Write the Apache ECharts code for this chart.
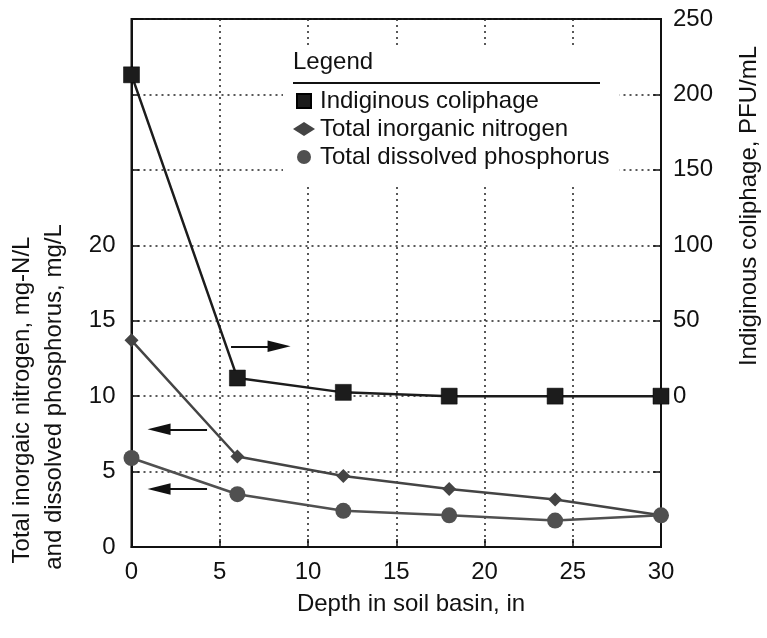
<!DOCTYPE html>
<html>
<head>
<meta charset="utf-8">
<script src="https://cdn.jsdelivr.net/npm/echarts@6/dist/echarts.min.js"></script>
<style>
  html, body { margin: 0; padding: 0; background: #fff; }
  #chart { width: 767px; height: 638px; }
</style>
</head>
<body>
<div id="chart"></div>
<script>
// depth in soil basin, in
const depths = [0, 6, 12, 18, 24, 30]
// indiginous coliphage, PFU/mL (right axis)
const coliphage = [213, 12, 2.5, 0, 0, 0]
// total inorganic nitrogen, mg-N/L (left axis)
const nitrogen = [13.7, 6.0, 4.7, 3.85, 3.15, 2.1]
// total dissolved phosphorus, mg/L (left axis)
const phosphorus = [5.9, 3.5, 2.4, 2.1, 1.75, 2.1]
// arrows pointing at the axis each curve belongs to: [tail x, head x, y on left axis]
const arrows = [[5.64, 8.36, 13.3], [4.28, 1.56, 7.8], [4.28, 1.56, 3.85]]

const FONT = 'Liberation Sans, Arial, Helvetica, sans-serif'
const FS = 24
const INK = '#111'
const dotted = { color: '#222', width: 1.5, type: [2, 4] }
// narrow triangle head, padded with moveTo points so it keeps its shape in a square box
const arrowHead = 'path://M-11,0 M11,0 M0,-11 L5.5,11 L-5.5,11 Z'
// 14x14 square inside a 22x14 legend slot
const squareIcon = 'path://M0,0 M22,14 M4,0 L18,0 L18,14 L4,14 Z'

const chart = echarts.init(document.getElementById('chart'), null, { renderer: 'canvas' })

const toPairs = (ys) => depths.map((d, i) => [d, ys[i]])

const option = {
  animation: false,
  textStyle: { fontFamily: FONT },
  grid: {
    left: 131.5, right: 106, top: 19, bottom: 91,
    show: true, borderColor: INK, borderWidth: 2
  },
  legend: {
    orient: 'vertical',
    left: 283,
    top: 45,
    padding: [44, 10, 14, 9],
    backgroundColor: '#fff',
    itemWidth: 22,
    itemHeight: 14,
    itemGap: 4,
    selectedMode: false,
    textStyle: { fontSize: FS, color: INK, fontFamily: FONT },
    data: [
      { name: 'Indiginous coliphage', icon: squareIcon },
      { name: 'Total inorganic nitrogen', icon: 'diamond' },
      { name: 'Total dissolved phosphorus', icon: 'circle' }
    ]
  },
  xAxis: {
    type: 'value', min: 0, max: 30, interval: 5,
    axisLine: { lineStyle: { color: INK, width: 2 } },
    axisTick: { inside: true, length: 8, lineStyle: { color: INK, width: 1.5 } },
    axisLabel: { fontSize: FS, color: INK, margin: 13 },
    splitLine: { show: true, lineStyle: dotted }
  },
  yAxis: [
    {
      type: 'value', min: 0, max: 35, interval: 5,
      axisLine: { show: true, lineStyle: { color: INK, width: 2 } },
      axisTick: { show: true, inside: true, length: 8, lineStyle: { color: INK, width: 1.5 } },
      axisLabel: { fontSize: FS, color: INK, margin: 16, formatter: v => (v <= 20 ? v : '') },
      splitLine: { show: true, lineStyle: dotted }
    },
    {
      type: 'value', min: -100, max: 250, interval: 50, position: 'right',
      axisLine: { show: true, lineStyle: { color: INK, width: 2 } },
      axisTick: { show: true, inside: true, length: 8, lineStyle: { color: INK, width: 1.5 } },
      axisLabel: { fontSize: FS, color: INK, margin: 12, formatter: v => (v >= 0 ? v : '') },
      splitLine: { show: false }
    }
  ],
  series: [
    {
      name: 'Total inorganic nitrogen',
      type: 'line', yAxisIndex: 0, clip: false,
      data: toPairs(nitrogen),
      symbol: 'diamond', symbolSize: 14,
      itemStyle: { color: '#444' },
      lineStyle: { color: '#444', width: 2.5 },
      markLine: {
        silent: true,
        animation: false,
        label: { show: false },
        symbol: ['none', arrowHead],
        symbolSize: 23,
        lineStyle: { color: INK, width: 2, type: 'solid' },
        data: arrows.map(a => [
          { coord: [a[0], a[2]] },
          { coord: [a[1], a[2]] }
        ])
      }
    },
    {
      name: 'Total dissolved phosphorus',
      type: 'line', yAxisIndex: 0, clip: false,
      data: toPairs(phosphorus),
      symbol: 'circle', symbolSize: 16,
      itemStyle: { color: '#505050' },
      lineStyle: { color: '#505050', width: 2.5 }
    },
    {
      name: 'Indiginous coliphage',
      type: 'line', yAxisIndex: 1, clip: false,
      data: toPairs(coliphage),
      symbol: 'rect', symbolSize: 16,
      itemStyle: { color: '#1c1c1c', borderColor: '#000', borderWidth: 0.5 },
      lineStyle: { color: '#1c1c1c', width: 2.5 }
    }
  ],
  graphic: [
    {
      type: 'text', x: 293, y: 62, z: 100,
      style: { text: 'Legend', font: FS + 'px ' + FONT, fill: INK, textVerticalAlign: 'middle' }
    },
    {
      type: 'line', z: 100,
      shape: { x1: 293, y1: 83, x2: 600, y2: 83 },
      style: { stroke: INK, lineWidth: 2 }
    },
    {
      type: 'text', x: 411, y: 604,
      style: { text: 'Depth in soil basin, in', font: FS + 'px ' + FONT, fill: INK, textAlign: 'center', textVerticalAlign: 'middle' }
    },
    {
      type: 'text', x: 22, y: 400, rotation: Math.PI / 2,
      style: { text: 'Total inorgaic nitrogen, mg-N/L', font: FS + 'px ' + FONT, fill: INK, textAlign: 'center', textVerticalAlign: 'middle' }
    },
    {
      type: 'text', x: 54, y: 397, rotation: Math.PI / 2,
      style: { text: 'and dissolved phosphorus, mg/L', font: FS + 'px ' + FONT, fill: INK, textAlign: 'center', textVerticalAlign: 'middle' }
    },
    {
      type: 'text', x: 749, y: 206, rotation: Math.PI / 2,
      style: { text: 'Indiginous coliphage, PFU/mL', font: FS + 'px ' + FONT, fill: INK, textAlign: 'center', textVerticalAlign: 'middle' }
    }
  ]
}

chart.setOption(option)
</script>
</body>
</html>
